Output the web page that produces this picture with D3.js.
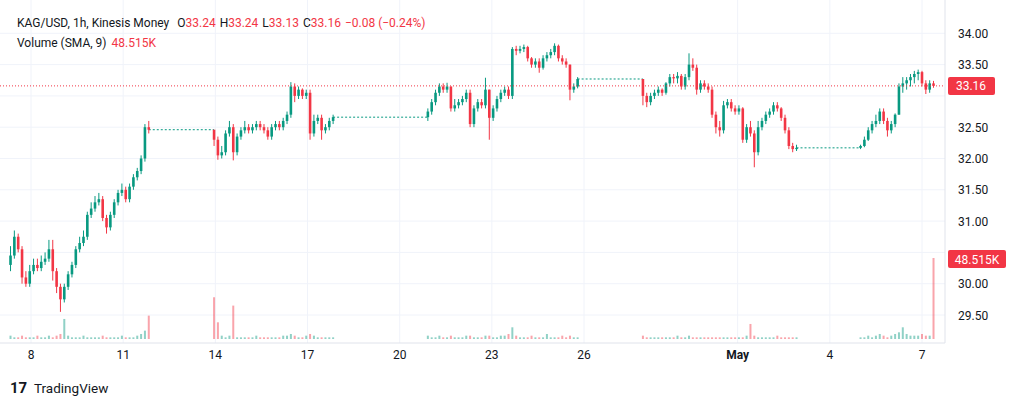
<!DOCTYPE html>
<html><head><meta charset="utf-8">
<script src="https://cdn.jsdelivr.net/npm/d3@7"></script>
<style>body{margin:0;background:#fff;font-family:Roboto,"Noto Sans",sans-serif}</style>
</head><body><svg id="c" width="1024" height="406"></svg>
<script>
// segment start times (3-hour candles)
const segStarts = ["2024-04-07T08:00","2024-04-13T23:00","2024-04-20T22:00","2024-04-27T22:00","2024-05-05T00:00"];
const closesA=[30.45,30.75,30.55,30.1,30.0,30.2,30.3,30.25,30.35,30.4,30.55,30.2,29.95,29.75,29.95,30.15,30.3,30.55,30.65,30.75,31.1,31.2,31.3,31.35,31.05,30.9,31.1,31.3,31.45,31.5,31.35,31.55,31.7,31.8,32.0,32.5,32.46];
const highsA=[30.6,30.85,30.8,30.6,30.2,30.3,30.4,30.4,30.45,30.5,30.7,30.7,30.25,30.0,30.0,30.2,30.35,30.6,30.75,30.85,31.15,31.3,31.4,31.45,31.4,31.1,31.15,31.35,31.5,31.6,31.55,31.6,31.75,31.85,32.05,32.55,32.6];
const lowsA=[30.2,30.4,30.5,30.0,29.95,29.95,30.15,30.2,30.2,30.3,30.35,30.05,29.85,29.55,29.7,29.9,30.1,30.25,30.5,30.6,30.7,31.05,31.15,31.25,31.0,30.8,30.85,31.05,31.25,31.4,31.3,31.3,31.5,31.65,31.75,31.95,32.4];
const volA=[2,1,1,2,1,1,1,2,1,1,2,1,2,3,12,2,1,1,1,2,1,1,1,1,2,1,1,1,1,2,1,1,1,2,3,5,14];
const closesB=[32.3,32.05,32.1,32.4,32.5,32.1,32.35,32.45,32.5,32.45,32.5,32.55,32.5,32.45,32.35,32.5,32.55,32.5,32.6,32.7,33.15,33.0,33.1,33.0,33.05,32.4,32.6,32.65,32.45,32.5,32.6,32.66];
const highsB=[32.45,32.35,32.2,32.45,32.6,32.55,32.4,32.5,32.6,32.55,32.55,32.6,32.6,32.55,32.5,32.55,32.6,32.6,32.65,32.75,33.22,33.2,33.15,33.12,33.1,33.1,32.7,32.7,32.7,32.55,32.65,32.7];
const lowsB=[32.2,31.98,32.0,32.05,32.35,31.97,32.05,32.3,32.4,32.4,32.4,32.45,32.45,32.4,32.3,32.3,32.45,32.45,32.45,32.55,32.65,32.9,32.95,32.95,32.95,32.3,32.35,32.55,32.3,32.4,32.45,32.55];
const volB=[25,10,2,1,2,20,1,1,1,1,1,2,1,1,1,1,1,1,2,2,3,2,1,1,2,3,2,1,1,1,1,1];
const closesC=[32.75,32.9,33.05,33.15,33.1,33.15,32.8,32.85,32.9,32.95,33.05,32.55,32.8,32.9,32.85,33.1,32.65,32.8,32.95,33.05,33.1,33.0,33.75,33.72,33.75,33.78,33.6,33.5,33.55,33.45,33.6,33.65,33.7,33.8,33.6,33.55,33.5,33.1,33.15,33.27];
const highsC=[32.8,32.95,33.1,33.2,33.2,33.21,33.15,32.95,32.95,33.0,33.1,33.1,32.85,32.95,32.95,33.29,33.1,32.85,33.0,33.1,33.15,33.15,33.78,33.8,33.8,33.82,33.8,33.62,33.6,33.6,33.65,33.7,33.75,33.84,33.82,33.65,33.6,33.5,33.2,33.3];
const lowsC=[32.6,32.7,32.85,33.0,33.05,33.05,32.75,32.75,32.8,32.85,32.9,32.5,32.5,32.75,32.8,32.8,32.3,32.6,32.75,32.9,33.0,32.95,32.95,33.65,33.68,33.7,33.55,33.45,33.45,33.37,33.42,33.55,33.6,33.65,33.55,33.5,33.45,32.93,33.05,33.12];
const volC=[2,1,1,2,1,1,2,1,1,1,2,2,1,1,1,2,2,1,1,2,2,3,7,2,1,1,1,2,1,1,1,3,1,1,1,2,1,2,1,1];
const closesD=[33.0,32.9,33.0,33.05,33.1,33.05,33.2,33.3,33.28,33.32,33.15,33.3,33.5,33.45,33.1,33.2,33.15,33.1,32.7,32.5,32.45,32.85,32.9,32.8,32.75,32.8,32.3,32.5,32.4,32.1,32.5,32.6,32.7,32.75,32.85,32.8,32.65,32.45,32.2,32.15,32.17];
const highsD=[33.22,33.05,33.05,33.1,33.15,33.12,33.22,33.35,33.35,33.38,33.35,33.35,33.68,33.6,33.5,33.25,33.25,33.2,33.15,32.75,32.6,32.92,32.95,32.95,32.85,32.85,32.82,32.55,32.6,32.45,32.6,32.65,32.75,32.8,32.9,32.9,32.82,32.7,32.5,32.25,32.22];
const lowsD=[32.85,32.82,32.85,32.95,33.0,33.0,33.02,33.15,33.2,33.2,33.1,33.1,33.25,33.4,33.02,33.05,33.1,33.05,32.65,32.4,32.35,32.4,32.8,32.75,32.7,32.7,32.25,32.25,32.35,31.86,32.05,32.45,32.55,32.65,32.7,32.75,32.6,32.4,32.15,32.1,32.12];
const volD=[2,1,1,1,1,1,1,1,1,2,1,1,2,1,1,1,1,1,1,1,1,1,1,1,1,1,1,2,9,2,1,1,1,1,1,2,1,1,1,1,1];
const closesE=[32.2,32.3,32.45,32.55,32.6,32.75,32.6,32.45,32.55,32.7,33.15,33.2,33.25,33.3,33.35,33.38,33.2,33.1,33.2,33.16];
const highsE=[32.22,32.35,32.5,32.6,32.7,32.8,32.8,32.65,32.6,32.72,33.2,33.3,33.3,33.35,33.4,33.42,33.4,33.25,33.25,33.24];
const lowsE=[32.15,32.18,32.28,32.4,32.5,32.55,32.55,32.35,32.4,32.5,32.7,33.05,33.1,33.15,33.2,33.25,33.15,33.03,33.05,33.13];
const volE=[1,1,2,1,2,3,2,1,2,3,4,7,3,2,2,2,3,2,2,48.515];
const priceTicks=[29.5,30,30.5,31,31.5,32,32.5,33,33.5,34];
const dayTicks=["2024-04-08","2024-04-11","2024-04-14","2024-04-17","2024-04-20","2024-04-23","2024-04-26","2024-05-01","2024-05-04","2024-05-07"];
const dayLabels=["8","11","14","17","20","23","26","May","4","7"];
const lastPrice=33.16, lastVol="48.515K";

const UP="#089981", DN="#f23645";
const svg=d3.select("#c");
const x=d3.scaleTime().domain([new Date("2024-04-08T00:00"),new Date("2024-05-07T00:00")]).range([31,922]);
const y=d3.scaleLinear().domain([29.5,34]).range([315,33.3]);
const yv=d3.scaleLinear().domain([0,48.515]).range([339,258]);
const plotR=945;

svg.append("g").selectAll("line").data(priceTicks).join("line")
 .attr("x1",0).attr("x2",plotR).attr("y1",d=>y(d)).attr("y2",d=>y(d)).attr("stroke","#f0f3fa");
svg.append("g").selectAll("line").data(dayTicks).join("line")
 .attr("x1",d=>x(new Date(d+"T00:00"))).attr("x2",d=>x(new Date(d+"T00:00"))).attr("y1",0).attr("y2",343).attr("stroke","#f0f3fa");

const segs=[[closesA,highsA,lowsA,volA],[closesB,highsB,lowsB,volB],[closesC,highsC,lowsC,volC],[closesD,highsD,lowsD,volD],[closesE,highsE,lowsE,volE]];
let candles=[], prev=30.3, segInfo=[];
segs.forEach((s,si)=>{
  const t0=new Date(segStarts[si]).getTime();
  const first=candles.length;
  s[0].forEach((c,i)=>{
    candles.push({t:new Date(t0+i*3*3600e3),o:prev,h:s[1][i],l:s[2][i],c:c,v:s[3][i]});
    prev=c;
  });
  segInfo.push([first,candles.length-1]);
});

svg.append("g").selectAll("rect").data(candles).join("rect")
 .attr("x",d=>x(d.t)-1).attr("width",2).attr("y",d=>yv(d.v)).attr("height",d=>339-yv(d.v))
 .attr("fill",d=>d.c>=d.o?UP:DN).attr("opacity",0.45);

for(let i=0;i<segInfo.length-1;i++){
  const a=candles[segInfo[i][1]], b=candles[segInfo[i+1][0]];
  svg.append("line").attr("x1",x(a.t)).attr("x2",x(b.t)).attr("y1",y(a.c)).attr("y2",y(a.c))
   .attr("stroke",UP).attr("stroke-dasharray","2,2").attr("stroke-width",1);
}
const g=svg.append("g");
g.selectAll("line").data(candles).join("line")
 .attr("x1",d=>x(d.t)).attr("x2",d=>x(d.t)).attr("y1",d=>y(d.h)).attr("y2",d=>y(d.l))
 .attr("stroke",d=>d.c>=d.o?UP:DN).attr("stroke-width",1);
g.selectAll("rect").data(candles).join("rect")
 .attr("x",d=>x(d.t)-1.3).attr("width",2.6)
 .attr("y",d=>y(Math.max(d.o,d.c))).attr("height",d=>Math.max(1,Math.abs(y(d.o)-y(d.c))))
 .attr("fill",d=>d.c>=d.o?UP:DN);

svg.append("line").attr("x1",0).attr("x2",plotR).attr("y1",y(lastPrice)).attr("y2",y(lastPrice))
 .attr("stroke",DN).attr("stroke-dasharray","1,2");

svg.append("line").attr("x1",plotR).attr("x2",plotR).attr("y1",0).attr("y2",343).attr("stroke","#e0e3eb");
svg.append("line").attr("x1",0).attr("x2",plotR).attr("y1",343).attr("y2",343).attr("stroke","#e0e3eb");
// tick labels hidden under the price / volume badges are skipped
svg.append("g").selectAll("text").data(priceTicks.filter(d=>Math.abs(y(d)-y(lastPrice))>12 && Math.abs(y(d)-259)>12)).join("text")
 .attr("x",958).attr("y",d=>y(d)+4.5).text(d=>d.toFixed(2))
 .attr("font-size",12).attr("fill","#131722");
svg.append("rect").attr("x",948).attr("y",y(lastPrice)-9).attr("width",47).attr("height",18).attr("rx",2).attr("fill",DN);
svg.append("text").attr("x",971).attr("y",y(lastPrice)+4.5).attr("text-anchor","middle").attr("fill","#fff").attr("font-size",12).text(lastPrice.toFixed(2));
svg.append("rect").attr("x",948).attr("y",250).attr("width",58).attr("height",18).attr("rx",2).attr("fill",DN);
svg.append("text").attr("x",977).attr("y",263.5).attr("text-anchor","middle").attr("fill","#fff").attr("font-size",12).text(lastVol);

svg.append("g").selectAll("text").data(dayTicks).join("text")
 .attr("x",d=>x(new Date(d+"T00:00"))).attr("y",359).attr("text-anchor","middle")
 .attr("font-size",12).attr("fill","#131722").attr("font-weight",(d,i)=>dayLabels[i]==="May"?"bold":"normal")
 .text((d,i)=>dayLabels[i]);

const h1=svg.append("text").attr("x",17).attr("y",27).attr("font-size",12).attr("fill","#131722").attr("xml:space","preserve");
h1.append("tspan").text("KAG/USD, 1h, Kinesis Money  ");
[["O","33.24"],["H","33.24"],["L","33.13"],["C","33.16"]].forEach(([k,v],i)=>{
  h1.append("tspan").attr("dx",i?4:2).text(k);h1.append("tspan").attr("fill",DN).text(v);
});
h1.append("tspan").attr("dx",4).attr("fill",DN).text("−0.08 (−0.24%)");
const h2=svg.append("text").attr("x",17).attr("y",47).attr("font-size",12).attr("fill","#131722");
h2.append("tspan").text("Volume (SMA, 9)");h2.append("tspan").attr("dx",5).attr("fill",DN).text("48.515K");

svg.append("text").attr("x",10).attr("y",393).attr("font-size",15).attr("font-weight","bold").attr("fill","#131722").text("17");
svg.append("text").attr("x",34).attr("y",393).attr("font-size",13.5).attr("fill","#131722").text("TradingView");
</script></body></html>
